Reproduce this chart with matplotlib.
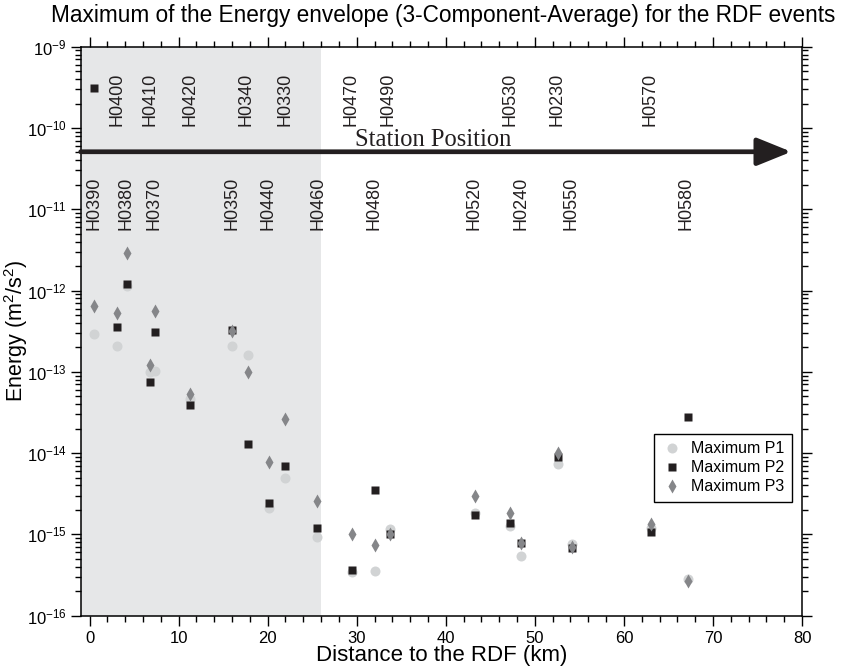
import matplotlib
matplotlib.use("Agg")
import matplotlib.pyplot as plt
from matplotlib.ticker import MultipleLocator, LogLocator, NullFormatter

# -------------------
# Data
# -------------------
stations = ["H0390", "H0400", "H0380", "H0410", "H0370", "H0420", "H0350",
            "H0340", "H0440", "H0330", "H0460", "H0470", "H0480", "H0490",
            "H0520", "H0530", "H0240", "H0230", "H0550", "H0570", "H0580"]
distance = [0.5, 3.1, 4.2, 6.8, 7.4, 11.3, 16.0, 17.8, 20.1, 22.0, 25.5,
            29.5, 32.0, 33.7, 43.3, 47.2, 48.5, 52.6, 54.2, 63.0, 67.2]

max_p1 = [2.95e-13, 2.1e-13, 1.15e-12, 1.0e-13, 1.02e-13, 4.6e-14, 2.1e-13,
          1.6e-13, 2.1e-15, 5.0e-15, 9.3e-16, 3.5e-16, 3.6e-16, 1.16e-15,
          1.85e-15, 1.27e-15, 5.4e-16, 7.4e-15, 7.6e-16, 1.2e-15, 2.8e-16]
max_p2 = [3.1e-10, 3.6e-13, 1.2e-12, 7.4e-14, 3.1e-13, 3.9e-14, 3.3e-13,
          1.3e-14, 2.45e-15, 7.0e-15, 1.2e-15, 3.7e-16, 3.5e-15, 1.0e-15,
          1.75e-15, 1.4e-15, 7.8e-16, 8.9e-15, 6.8e-16, 1.08e-15, 2.75e-14]
max_p3 = [6.4e-13, 5.3e-13, 2.9e-12, 1.23e-13, 5.6e-13, 5.4e-14, 3.2e-13,
          1.0e-13, 7.8e-15, 2.65e-14, 2.6e-15, 1.02e-15, 7.5e-16, 1.0e-15,
          2.97e-15, 1.82e-15, 7.8e-16, 1.0e-14, 7.0e-16, 1.35e-15, 2.7e-16]

# station names above / below the arrow
labels_up = ["H0400", "H0410", "H0420", "H0340", "H0330", "H0470", "H0490",
             "H0530", "H0230", "H0570"]
x_up = [3.07, 6.77, 11.29, 17.6, 21.9, 29.4, 33.5, 47.2, 52.5, 62.9]
labels_down = ["H0390", "H0380", "H0370", "H0350", "H0440", "H0460", "H0480",
               "H0520", "H0240", "H0550", "H0580"]
x_down = [0.45, 4.1, 7.25, 15.96, 20.07, 25.6, 31.9, 43.2, 48.4, 54.1, 67.0]

shade_end = 26

# -------------------
# Style
# -------------------
plt.rcParams["font.family"] = ["Liberation Sans", "DejaVu Sans"]
plt.rcParams["mathtext.fontset"] = "custom"
plt.rcParams["mathtext.rm"] = "Liberation Sans"
plt.rcParams["mathtext.it"] = "Liberation Sans:italic"
plt.rcParams["mathtext.bf"] = "Liberation Sans:bold"

fig = plt.figure(figsize=(8.42, 6.70), dpi=100)
ax = fig.add_axes([0.0958, 0.081, 0.8567, 0.8493])

ax.axvspan(-1, shade_end, color="#e6e7e8", zorder=0, lw=0)

ax.plot(distance, max_p1, "o", ms=7.2, color="#d1d3d4", mec="none",
        label="Maximum P1", zorder=3)
ax.plot(distance, max_p2, "s", ms=6.3, color="#231f20", mec="none",
        label="Maximum P2", zorder=4)
ax.plot(distance, max_p3, "d", ms=7.6, color="#858689", mec="none",
        label="Maximum P3", zorder=5)

# station position arrow
ax.annotate("", xy=(78.8, 5.1e-11), xytext=(-1, 5.1e-11),
            arrowprops=dict(arrowstyle="-|>,head_length=2.1,head_width=0.85",
                            mutation_scale=10, lw=3.4, color="#231f20",
                            shrinkA=0, shrinkB=0))
ax.text(29.8, 6.05e-11, "Station Position", family="Liberation Serif",
        fontsize=17.7, ha="left", va="baseline", color="#231f20")

for name, x in zip(labels_up, x_up):
    ax.text(x, 1.06e-10, name, rotation=90, ha="center", va="bottom",
            fontsize=13, color="#231f20")
for name, x in zip(labels_down, x_down):
    ax.text(x, 2.52e-11, name, rotation=90, ha="center", va="top",
            fontsize=13, color="#231f20")

# -------------------
# Axes
# -------------------
ax.set_yscale("log")
ax.set_xlim(-1, 80)
ax.set_ylim(1e-16, 1e-9)
ax.xaxis.set_major_locator(MultipleLocator(10))
ax.xaxis.set_minor_locator(MultipleLocator(2))
ax.yaxis.set_major_locator(LogLocator(base=10, numticks=20))
ax.yaxis.set_minor_locator(LogLocator(base=10, subs=range(2, 10), numticks=20))
ax.yaxis.set_minor_formatter(NullFormatter())

ax.tick_params(which="both", direction="out", top=True, right=True,
               width=1, color="black")
ax.tick_params(which="major", length=7)
ax.tick_params(which="minor", length=4)
ax.tick_params(axis="x", labelsize=12, pad=4)
ax.tick_params(axis="y", labelsize=12, pad=3)
for s in ax.spines.values():
    s.set_linewidth(1.1)

ax.set_xlabel("Distance to the RDF (km)", fontsize=16, labelpad=-0.5)
ax.set_ylabel("Energy (m$^2$/s$^2$)", fontsize=15.5)
ax.yaxis.set_label_coords(-0.0705, 0.5)

fig.text(0.526, 1 - 22 / 670,
         "Maximum of the Energy envelope (3-Component-Average) for the RDF events",
         ha="center", va="baseline", fontsize=16.3)

leg = ax.legend(loc="upper right", bbox_to_anchor=(0.986, 0.319),
                borderaxespad=0, fontsize=11.5, fancybox=False,
                framealpha=1, edgecolor="black", labelspacing=0.25,
                borderpad=0.45, handlelength=1.3, handletextpad=0.6)
leg.get_frame().set_linewidth(1.0)

fig.savefig("out.png", dpi=100)
